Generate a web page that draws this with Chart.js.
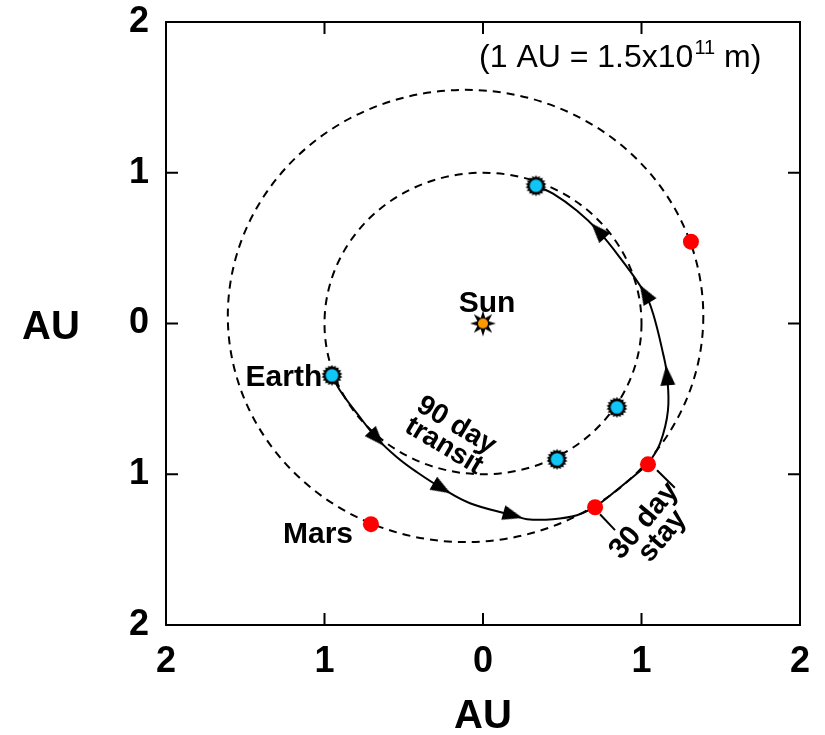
<!DOCTYPE html>
<html>
<head>
<meta charset="utf-8">
<script src="https://cdn.jsdelivr.net/npm/chart.js@4/dist/chart.umd.min.js"></script>
<style>
  body { margin: 0; background: #fff; }
  canvas { display: block; }
</style>
</head>
<body>
<canvas id="orbitChart" width="825" height="735"></canvas>
<script>
// axis ticks (labels printed without sign, like the original)
const tickValues = [-2, -1, 0, 1, 2];
const tickLabels = ["2", "1", "0", "1", "2"];

// orbits: centre and radius in AU
const earthOrbit = { cx: 0, cy: 0, r: 1 };
const marsOrbit = { cx: -0.11, cy: 0.05, r: 1.5 };

// planet positions
const sunX = [0];
const sunY = [0];
const earthX = [-0.953, 0.334, 0.845, 0.467];
const earthY = [-0.344, 0.914, -0.556, -0.901];
const marsX = [-0.707, 0.707, 1.041, 1.312];
const marsY = [-1.331, -1.219, -0.934, 0.543];

// 90 day transit Earth -> Mars
const outX = [-0.953, -0.902, -0.795, -0.669, -0.543, -0.416, -0.259, -0.082, 0.189, 0.278, 0.442, 0.593, 0.707];
const outY = [-0.344, -0.444, -0.596, -0.762, -0.887, -0.987, -1.093, -1.192, -1.272, -1.298, -1.298, -1.272, -1.219];
// 30 day stay, riding along with Mars
const stayX = [0.707, 0.80, 0.92, 1.041];
const stayY = [-1.219, -1.142, -1.04, -0.934];
// return leg Mars -> Earth
const retX = [1.041, 1.117, 1.167, 1.161, 1.136, 1.073, 1.022, 0.864, 0.726, 0.593, 0.442, 0.334];
const retY = [-0.934, -0.795, -0.576, -0.344, -0.199, 0.066, 0.199, 0.437, 0.616, 0.748, 0.861, 0.914];

// where the arrow heads sit (indices into the legs above)
const outArrows = [3, 6, 8];
const retArrows = [3, 6, 8];

// leader lines of the "30 day stay" note
const lead1X = [0.738, 0.833];
const lead1Y = [-1.265, -1.371];
const lead2X = [1.098, 1.21];
const lead2Y = [-0.974, -1.09];

const FONT = "'Liberation Sans', Arial, Helvetica, sans-serif";

const pts = (xs, ys) => xs.map((x, i) => ({ x, y: ys[i] }));

function starMarker(n, rOut, rIn, dotR, dotColor) {
  const c = document.createElement("canvas");
  const s = Math.ceil(rOut * 2 + 2);
  c.width = c.height = s;
  const g = c.getContext("2d");
  const m = s / 2;
  g.beginPath();
  for (let i = 0; i < n * 2; i++) {
    const r = i % 2 ? rIn : rOut;
    const a = (Math.PI * i) / n - Math.PI / 2;
    g.lineTo(m + r * Math.cos(a), m + r * Math.sin(a));
  }
  g.closePath();
  g.fillStyle = "#000";
  g.fill();
  g.beginPath();
  g.arc(m, m, dotR, 0, Math.PI * 2);
  g.fillStyle = dotColor;
  g.fill();
  return c;
}

// slim arrow head, tip pointing up
function arrowMarker(len, wid) {
  const c = document.createElement("canvas");
  c.width = Math.ceil(wid + 2);
  c.height = Math.ceil(len + 2);
  const g = c.getContext("2d");
  const m = c.width / 2;
  g.beginPath();
  g.moveTo(m, 1);
  g.lineTo(m + wid / 2, len + 1);
  g.lineTo(m - wid / 2, len + 1);
  g.closePath();
  g.fillStyle = "#000";
  g.fill();
  return c;
}

const earthImg = starMarker(18, 10.5, 8.3, 6.3, "#10c6f6");
const sunImg = starMarker(8, 13, 6, 5, "#ff9900");
const arrowImg = arrowMarker(20, 15);

// arrow head direction follows the path through its neighbours
function arrowRotation(xs, ys, idx) {
  return (c) => {
    const k = idx[c.dataIndex];
    const sx = c.chart.scales.x, sy = c.chart.scales.y;
    const dx = sx.getPixelForValue(xs[k + 1]) - sx.getPixelForValue(xs[k - 1]);
    const dy = sy.getPixelForValue(ys[k + 1]) - sy.getPixelForValue(ys[k - 1]);
    return (Math.atan2(dx, -dy) * 180) / Math.PI;
  };
}

const lineSet = (data, extra) =>
  Object.assign(
    {
      data,
      showLine: true,
      borderColor: "#000",
      borderWidth: 2,
      pointRadius: 0,
      tension: 0.4,
      order: 5,
    },
    extra || {}
  );

const orbitPlugin = {
  id: "orbits",
  beforeDatasetsDraw(chart) {
    const { ctx, scales: { x, y } } = chart;
    ctx.save();
    ctx.strokeStyle = "#000";
    ctx.lineWidth = 2;
    ctx.setLineDash([8, 6]);
    [earthOrbit, marsOrbit].forEach((o) => {
      const px = x.getPixelForValue(o.cx);
      const py = y.getPixelForValue(o.cy);
      const rx = x.getPixelForValue(o.cx + o.r) - px;
      const ry = py - y.getPixelForValue(o.cy + o.r);
      ctx.beginPath();
      ctx.ellipse(px, py, rx, ry, 0, 0, Math.PI * 2);
      ctx.stroke();
    });
    ctx.restore();
  },
};

const framePlugin = {
  id: "frame",
  afterDatasetsDraw(chart) {
    const { ctx, chartArea: a, scales: { x, y } } = chart;
    ctx.save();
    ctx.strokeStyle = "#000";
    ctx.lineWidth = 2;
    ctx.strokeRect(a.left, a.top, a.right - a.left, a.bottom - a.top);
    ctx.beginPath();
    x.ticks.forEach((t) => {
      const p = x.getPixelForValue(t.value);
      ctx.moveTo(p, a.bottom); ctx.lineTo(p, a.bottom - 12);
      ctx.moveTo(p, a.top); ctx.lineTo(p, a.top + 12);
    });
    y.ticks.forEach((t) => {
      const p = y.getPixelForValue(t.value);
      ctx.moveTo(a.left, p); ctx.lineTo(a.left + 12, p);
      ctx.moveTo(a.right, p); ctx.lineTo(a.right - 12, p);
    });
    ctx.stroke();

    // y axis title is horizontal in the original
    ctx.fillStyle = "#000";
    ctx.font = "bold 40px " + FONT;
    ctx.textAlign = "center";
    ctx.textBaseline = "middle";
    ctx.fillText("AU", 51, y.getPixelForValue(0) + 4);
    ctx.restore();
  },
};

// text notes, placed in data coordinates
const notes = [
  { lines: ["Sun"], x: 0.025, y: 0.132, size: 30, rot: 0 },
  { lines: ["Earth"], x: -1.256, y: -0.358, size: 30, rot: 0 },
  { lines: ["Mars"], x: -1.041, y: -1.404, size: 30, rot: 0 },
  { lines: ["90 day", "transit"], x: -0.208, y: -0.745, size: 28, rot: 31 },
  { lines: ["30 day", "stay"], x: 1.075, y: -1.36, size: 29, rot: -50 },
];

const notePlugin = {
  id: "notes",
  afterDatasetsDraw(chart) {
    const { ctx, scales: { x, y } } = chart;
    ctx.save();
    ctx.fillStyle = "#000";
    ctx.textAlign = "center";
    ctx.textBaseline = "middle";
    notes.forEach((n) => {
      ctx.save();
      ctx.translate(x.getPixelForValue(n.x), y.getPixelForValue(n.y));
      ctx.rotate((n.rot * Math.PI) / 180);
      ctx.font = "bold " + n.size + "px " + FONT;
      const lh = 24;
      n.lines.forEach((t, i) => {
        ctx.fillText(t, 0, (i - (n.lines.length - 1) / 2) * lh);
      });
      ctx.restore();
    });

    // (1 AU = 1.5x10^11 m)
    const left = x.getPixelForValue(-0.025);
    const mid = y.getPixelForValue(1.762);
    ctx.textAlign = "left";
    ctx.font = "32px " + FONT;
    const a = "(1 AU = 1.5x10";
    ctx.fillText(a, left, mid);
    let cx = left + ctx.measureText(a).width;
    ctx.font = "20px " + FONT;
    ctx.fillText("11", cx + 1, mid - 9);
    cx += ctx.measureText("11").width + 1;
    ctx.font = "32px " + FONT;
    ctx.fillText(" m)", cx, mid);
    ctx.restore();
  },
};

const axisFont = { family: FONT, size: 36, weight: "bold", lineHeight: 1 };

// keep Chart.js from growing the margins for overhanging labels
function noPad(s) {
  s.paddingTop = 0;
  s.paddingBottom = 0;
  s.paddingLeft = 0;
  s.paddingRight = 0;
}

new Chart(document.getElementById("orbitChart"), {
  type: "scatter",
  data: {
    datasets: [
      { data: pts(sunX, sunY), pointStyle: sunImg, order: 0 },
      { data: pts(earthX, earthY), pointStyle: earthImg, order: 0 },
      {
        data: pts(marsX, marsY),
        pointStyle: "circle",
        pointRadius: 8,
        backgroundColor: "#ff0000",
        borderWidth: 0,
        order: 0,
      },
      {
        data: outArrows.map((k) => ({ x: outX[k], y: outY[k] })),
        pointStyle: arrowImg,
        rotation: arrowRotation(outX, outY, outArrows),
        order: 1,
      },
      {
        data: retArrows.map((k) => ({ x: retX[k], y: retY[k] })),
        pointStyle: arrowImg,
        rotation: arrowRotation(retX, retY, retArrows),
        order: 1,
      },
      lineSet(pts(outX, outY)),
      lineSet(pts(stayX, stayY)),
      lineSet(pts(retX, retY)),
      lineSet(pts(lead1X, lead1Y), { tension: 0 }),
      lineSet(pts(lead2X, lead2Y), { tension: 0 }),
    ],
  },
  options: {
    responsive: false,
    animation: false,
    events: [],
    layout: { padding: { top: 22, right: 25, left: 0, bottom: 0 } },
    plugins: { legend: { display: false }, tooltip: { enabled: false } },
    scales: {
      x: {
        type: "linear",
        min: -2,
        max: 2,
        afterBuildTicks: (s) => { s.ticks = tickValues.map((v) => ({ value: v })); },
        afterFit: (s) => { s.height = 110; noPad(s); },
        grid: { display: false, drawTicks: false },
        border: { display: false },
        ticks: {
          color: "#000",
          font: axisFont,
          padding: 19,
          maxRotation: 0,
          callback: (v, i) => tickLabels[i],
        },
        title: {
          display: true,
          text: "AU",
          color: "#000",
          font: { family: FONT, size: 40, weight: "bold", lineHeight: 1 },
          padding: { top: 0, bottom: -2 },
        },
      },
      y: {
        type: "linear",
        min: -2,
        max: 2,
        afterBuildTicks: (s) => { s.ticks = tickValues.map((v) => ({ value: v })); },
        afterFit: (s) => { s.width = 166; noPad(s); },
        grid: { display: false, drawTicks: false },
        border: { display: false },
        ticks: {
          color: "#000",
          font: axisFont,
          padding: 17,
          callback: (v, i) => tickLabels[i],
        },
      },
    },
  },
  plugins: [orbitPlugin, framePlugin, notePlugin],
});
</script>
</body>
</html>
